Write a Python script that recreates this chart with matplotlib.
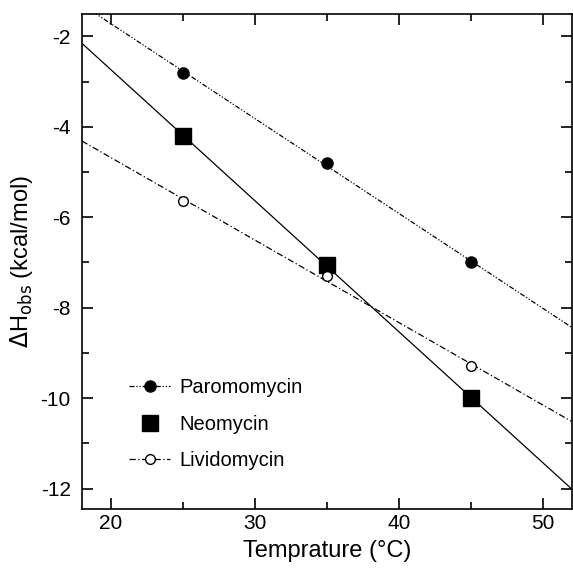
import numpy as np
from matplotlib import pyplot as plt
from matplotlib.lines import Line2D
from matplotlib.ticker import MultipleLocator

temps = [25, 35, 45]
paromomycin = [-2.8, -4.8, -7.0]
neomycin = [-4.2, -7.05, -10.0]
lividomycin = [-5.65, -7.3, -9.3]
names = ['Paromomycin', 'Neomycin', 'Lividomycin']

x_fit = np.array([18, 52])


def plotter():
    plt.rcParams['font.family'] = ['Liberation Sans', 'DejaVu Sans']

    fig = plt.figure(figsize=(5.73, 5.75), dpi=100)
    ax = fig.add_axes([0.143, 0.115, 0.855, 0.861])

    # linear fits across the full axis range
    p = np.polyfit(temps, paromomycin, 1)
    n = np.polyfit(temps, neomycin, 1)
    l = np.polyfit(temps, lividomycin, 1)
    ax.plot(x_fit, np.polyval(p, x_fit), c='k', lw=0.9, dashes=(4, 1.5, 1, 1.5, 1, 1.5))
    ax.plot(x_fit, np.polyval(n, x_fit), c='k', lw=0.9)
    ax.plot(x_fit, np.polyval(l, x_fit), c='k', lw=0.9, dashes=(5, 2, 1, 2))

    # data points
    ax.plot(temps, paromomycin, 'o', c='k', ms=8, ls='none')
    ax.plot(temps, neomycin, 's', c='k', ms=11, ls='none')
    ax.plot(temps, lividomycin, 'o', mfc='white', mec='k', ms=7, ls='none')

    handles = [
        Line2D([], [], c='k', lw=0.9, marker='o', ms=8, dashes=(4, 1.5, 1, 1.5, 1, 1.5)),
        Line2D([], [], c='k', ls='none', marker='s', ms=11),
        Line2D([], [], c='k', lw=0.9, marker='o', ms=7, mfc='white', dashes=(5, 2, 1, 2)),
    ]
    ax.legend(handles, names, frameon=False,
              loc='upper left', bbox_to_anchor=(0.06, 0.3), fontsize=14.5,
              handlelength=2.0, handletextpad=0.5, labelspacing=0.85)

    ax.set_xlim(18, 52)
    ax.xaxis.set_major_locator(MultipleLocator(10))
    ax.xaxis.set_minor_locator(MultipleLocator(5))
    ax.set_yticks([-2, -4, -6, -8, -10, -12])
    ax.set_yticklabels(['-2', '-4', '-6', '-8', '-10', '-12'])
    ax.yaxis.set_minor_locator(MultipleLocator(1))
    ax.set_ylim(-12.45, -1.5)
    ax.tick_params(which='both', direction='in', top=True, right=True, labelsize=15, width=1.2)
    ax.tick_params(which='major', length=8)
    ax.tick_params(which='minor', length=5)
    ax.tick_params(axis='y', pad=8)
    for s in ax.spines.values():
        s.set_linewidth(1.2)

    ax.set_xlabel('Temprature (°C)', fontsize=17, labelpad=5)
    ax.set_ylabel(r'$\Delta$H$_{\rm obs}$ (kcal/mol)', fontsize=17, labelpad=4)

    fig.savefig('out.png', dpi=100)


if __name__ == '__main__':
    plotter()
